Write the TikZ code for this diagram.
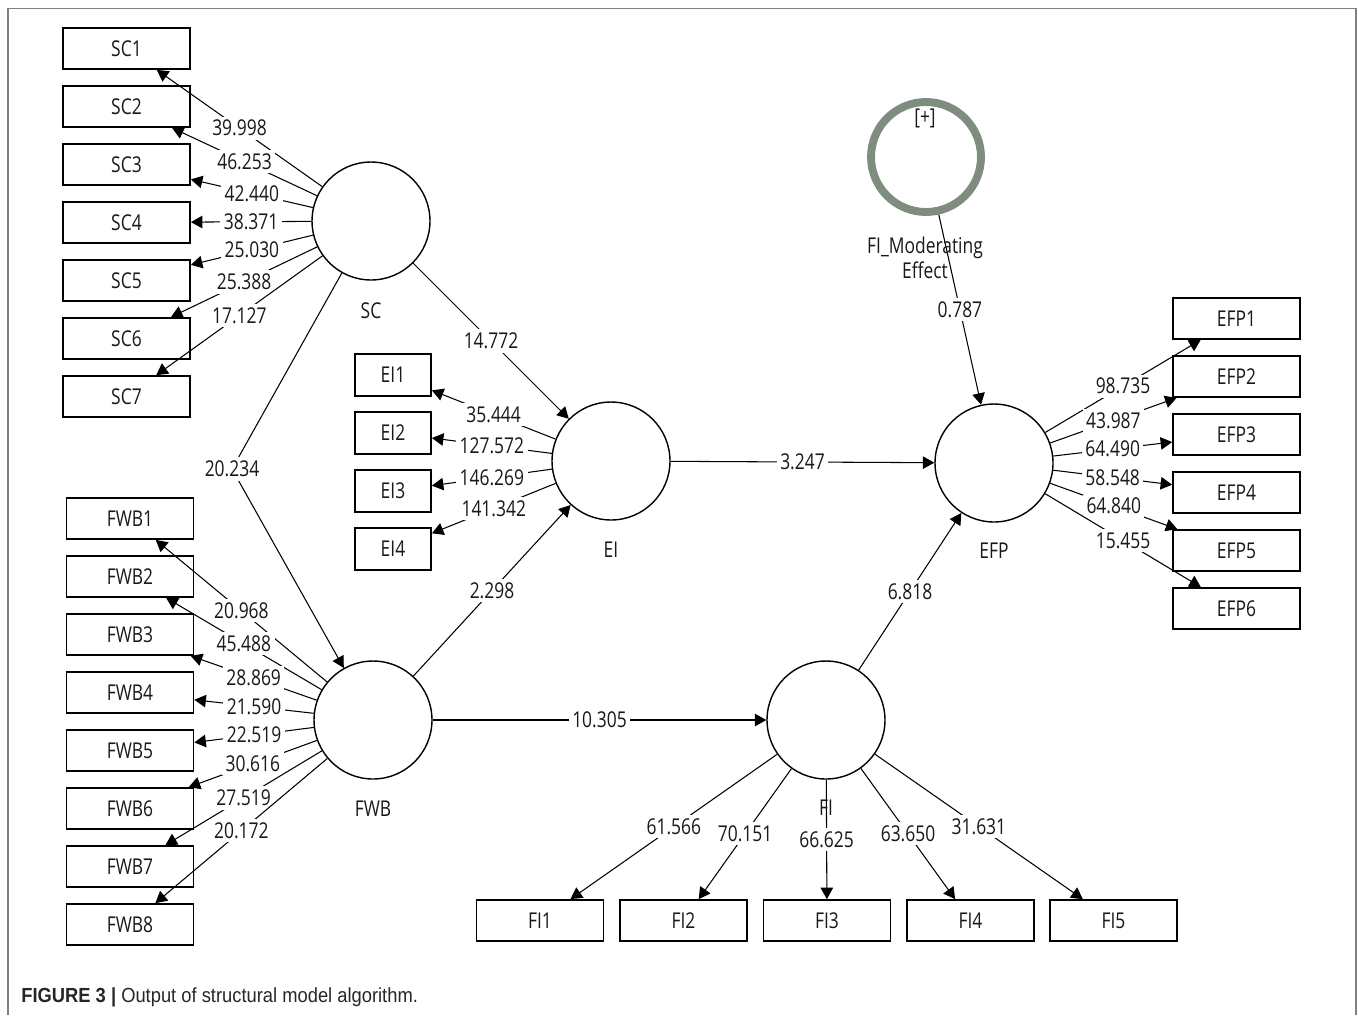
\documentclass[tikz,border=0pt]{standalone}
\usepackage{fontspec}
\setmainfont[FakeStretch=0.8]{Open Sans}
\newfontfamily\capfont[FakeStretch=0.9]{Liberation Sans}
\usepackage{tikz}
\usetikzlibrary{arrows.meta}
\usetikzlibrary{positioning}
\definecolor{modgreen}{RGB}{126,141,126}

\begin{document}
\begin{tikzpicture}[x=0.02cm, y=-0.02cm,
		lv/.style={circle, draw, line width=0.8pt, minimum size=2.36cm, inner sep=0pt},
		mv/.style={rectangle, draw, line width=1pt, minimum width=2.54cm, minimum height=0.82cm, font=\fontsize{12.4}{14}\selectfont, text=black!90},
		ev/.style={mv, minimum width=1.52cm, minimum height=0.84cm},
		nm/.style={font=\fontsize{12.4}{14}\selectfont, text=black!90},
		wt/.style={nm, fill=white, inner sep=2pt},
		ld/.style={line width=0.6pt, -{Triangle[length=2.3mm, width=2.5mm]}}]
					\useasboundingbox (0,0) rectangle (1358,1015);
					% Frame and caption:
					\draw[gray, line width=1.1pt] (8,1015) -- (8,8.5) -- (1356,8.5) -- (1356,1015);
					\node[anchor=west, inner sep=0pt, font=\capfont\fontsize{11.6}{13}\selectfont, text=black!85] (cap) at (21,997) {\textbf{FIGURE 3 |} Output of structural model algorithm.};
					% Latent variables:
					\node[lv] (SC) at (371,221){};
					\node[lv] (EI) at (611,461){};
					\node[lv] (FWB) at (373,720){};
					\node[lv] (FI) at (826,720){};
					\node[lv] (EFP) at (994,463){};
					\node[circle, draw=modgreen, line width=4.5pt, minimum size=2.2cm, inner sep=0pt] (MOD) at (926,157){};
					\node[nm] (MODp) at (925,118){[+]};
					% Indicators:
					\node[mv] (SC1) at (126.5,48.5){SC1};
					\node[mv] (SC2) at (126.5,106.5){SC2};
					\node[mv] (SC3) at (126.5,164.5){SC3};
					\node[mv] (SC4) at (126.5,222.5){SC4};
					\node[mv] (SC5) at (126.5,280.5){SC5};
					\node[mv] (SC6) at (126.5,338.5){SC6};
					\node[mv] (SC7) at (126.5,396.5){SC7};
					\node[ev] (EI1) at (393,375){EI1};
					\node[ev] (EI2) at (393,433){EI2};
					\node[ev] (EI3) at (393,491){EI3};
					\node[ev] (EI4) at (393,549){EI4};
					\node[mv] (FWB1) at (130,518.5){FWB1};
					\node[mv] (FWB2) at (130,576.5){FWB2};
					\node[mv] (FWB3) at (130,634.5){FWB3};
					\node[mv] (FWB4) at (130,692.5){FWB4};
					\node[mv] (FWB5) at (130,750.5){FWB5};
					\node[mv] (FWB6) at (130,808.5){FWB6};
					\node[mv] (FWB7) at (130,866.5){FWB7};
					\node[mv] (FWB8) at (130,924.5){FWB8};
					\node[mv] (FI1) at (540,920.5){FI1};
					\node[mv] (FI2) at (683.5,920.5){FI2};
					\node[mv] (FI3) at (827,920.5){FI3};
					\node[mv] (FI4) at (970.5,920.5){FI4};
					\node[mv] (FI5) at (1113.5,920.5){FI5};
					\node[mv] (EFP1) at (1236.5,318.5){EFP1};
					\node[mv] (EFP2) at (1236.5,376.5){EFP2};
					\node[mv] (EFP3) at (1236.5,434.5){EFP3};
					\node[mv] (EFP4) at (1236.5,492.5){EFP4};
					\node[mv] (EFP5) at (1236.5,550.5){EFP5};
					\node[mv] (EFP6) at (1236.5,608.5){EFP6};
					% Outer loadings:
					\draw[ld] (SC) -- node[wt]{39.998} (SC1);
					\draw[ld] (SC) -- node[wt]{46.253} (SC2);
					\draw[ld] (SC) -- node[wt]{42.440} (SC3);
					\draw[ld] (SC) -- node[wt]{38.371} (SC4);
					\draw[ld] (SC) -- node[wt]{25.030} (SC5);
					\draw[ld] (SC) -- node[wt]{25.388} (SC6);
					\draw[ld] (SC) -- node[wt]{17.127} (SC7);
					\draw[ld] (EI) -- node[wt]{35.444} (EI1);
					\draw[ld] (EI) -- node[wt]{127.572} (EI2);
					\draw[ld] (EI) -- node[wt]{146.269} (EI3);
					\draw[ld] (EI) -- node[wt]{141.342} (EI4);
					\draw[ld] (FWB) -- node[wt]{20.968} (FWB1);
					\draw[ld] (FWB) -- node[wt]{45.488} (FWB2);
					\draw[ld] (FWB) -- node[wt]{28.869} (FWB3);
					\draw[ld] (FWB) -- node[wt]{21.590} (FWB4);
					\draw[ld] (FWB) -- node[wt]{22.519} (FWB5);
					\draw[ld] (FWB) -- node[wt]{30.616} (FWB6);
					\draw[ld] (FWB) -- node[wt]{27.519} (FWB7);
					\draw[ld] (FWB) -- node[wt]{20.172} (FWB8);
					\draw[ld] (FI) -- node[wt]{61.566} (FI1);
					\draw[ld] (FI) -- node[wt]{70.151} (FI2);
					\draw[ld] (FI) -- node[wt]{66.625} (FI3);
					\draw[ld] (FI) -- node[wt]{63.650} (FI4);
					\draw[ld] (FI) -- node[wt]{31.631} (FI5);
					\draw[ld] (EFP) -- node[wt]{98.735} (EFP1);
					\draw[ld] (EFP) -- node[wt]{43.987} (EFP2);
					\draw[ld] (EFP) -- node[wt]{64.490} (EFP3);
					\draw[ld] (EFP) -- node[wt]{58.548} (EFP4);
					\draw[ld] (EFP) -- node[wt]{64.840} (EFP5);
					\draw[ld] (EFP) -- node[wt]{15.455} (EFP6);
					% Inner paths:
					\coordinate (bend) at (232,469);
					\draw[ld] (SC) -- (bend) -- (FWB);
					\node[wt] at (bend){20.234};
					\draw[ld] (SC) -- node[wt]{14.772} (EI);
					\draw[ld] (FWB) -- node[wt]{2.298} (EI);
					\draw[ld] (FWB) -- node[wt]{10.305} (FI);
					\draw[ld] (EI) -- node[wt]{3.247} (EFP);
					\draw[ld] (FI) -- node[wt]{6.818} (EFP);
					\draw[ld] (MOD) -- node[wt]{0.787} (EFP);
					% Construct names:
					\node[nm] (SCn) at ([yshift=-1.8cm]SC.center){SC};
					\node[nm] (EIn) at ([yshift=-1.78cm]EI.center){EI};
					\node[nm] (FWBn) at ([yshift=-1.78cm]FWB.center){FWB};
					\node[nm] (FIn) at ([yshift=-1.76cm]FI.center){FI};
					\node[nm] (EFPn) at ([yshift=-1.76cm]EFP.center){EFP};
					\node[nm, align=center] (MODn) at (925,258){FI\_Moderating\\Effect};
				\end{tikzpicture}
\end{document}
